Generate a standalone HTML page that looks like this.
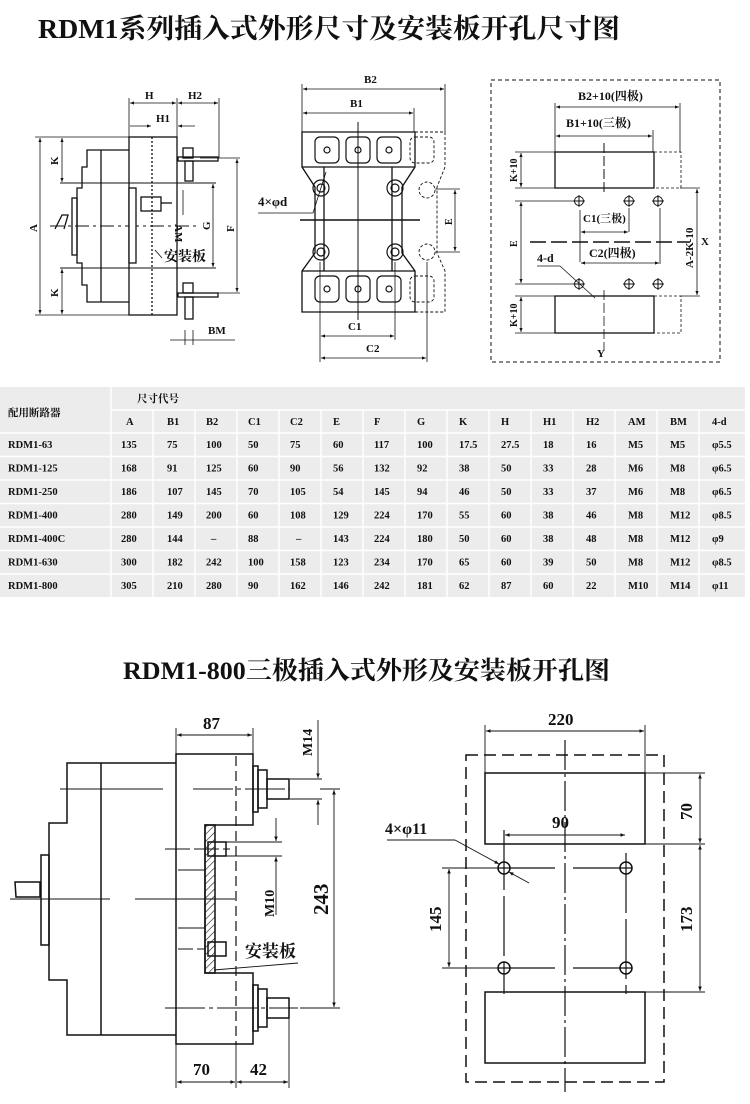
<!DOCTYPE html>
<html><head><meta charset="utf-8"><style>
html,body{margin:0;padding:0;background:#fff;}
svg{display:block;}
text{font-family:"Liberation Serif","Noto Serif CJK SC",serif;font-weight:bold;fill:#111;}
.t{font-size:11px;}
</style></head><body>
<svg width="750" height="1104" viewBox="0 0 750 1104" xmlns="http://www.w3.org/2000/svg">
<defs>
<marker id="a" viewBox="0 0 10 10" refX="10" refY="5" markerWidth="7" markerHeight="5" orient="auto-start-reverse"><path d="M0,1L10,5L0,9z" fill="#111"/></marker>
<pattern id="h" width="5" height="5" patternUnits="userSpaceOnUse" patternTransform="rotate(45)"><line x1="0" y1="0" x2="0" y2="5" stroke="#111" stroke-width="1.2"/></pattern>
</defs>
<text x="38" y="38" font-size="27" textLength="582" lengthAdjust="spacingAndGlyphs">RDM1系列插入式外形尺寸及安装板开孔尺寸图</text>
<text x="123" y="679" font-size="25" textLength="487" lengthAdjust="spacingAndGlyphs">RDM1-800三极插入式外形及安装板开孔图</text>

<!-- ===== TOP LEFT ===== -->
<g stroke="#111" fill="none" stroke-width="1.3">
<rect x="129" y="137" width="48" height="178"/>
<line x1="152" y1="137" x2="152" y2="315" stroke-dasharray="2,2"/>
<path d="M129,150H87V167H82V188H77V263H82V285H87V302H129"/>
<line x1="101" y1="150" x2="101" y2="302"/>
<line x1="60" y1="183" x2="216" y2="183" stroke-width="1"/>
<line x1="60" y1="268" x2="216" y2="268" stroke-width="1"/>
<rect x="72" y="198" width="5" height="57"/>
<path d="M55,229L62,215H68L64,229"/>
<line x1="50" y1="226" x2="200" y2="226" stroke-dasharray="14,4,3,4" stroke-width="1"/>
<rect x="129" y="188" width="7" height="75" fill="#fff"/>
<rect x="183" y="148" width="10" height="10"/><rect x="178" y="157" width="40" height="4"/><rect x="185" y="161" width="8" height="20"/>
<rect x="183" y="283" width="10" height="10"/><rect x="178" y="293" width="40" height="4"/><rect x="185" y="297" width="8" height="22"/>
<rect x="141" y="197" width="20" height="14"/><line x1="161" y1="203" x2="172" y2="203"/>
<g stroke-width="0.8">
<line x1="129" y1="98" x2="129" y2="137"/><line x1="177" y1="98" x2="177" y2="137"/><line x1="219" y1="98" x2="219" y2="158"/>
<line x1="130" y1="103" x2="176" y2="103" marker-start="url(#a)" marker-end="url(#a)"/>
<line x1="178" y1="103" x2="218" y2="103" marker-start="url(#a)" marker-end="url(#a)"/>
<line x1="130" y1="126" x2="151" y2="126" marker-end="url(#a)"/><line x1="178" y1="126" x2="195" y2="126" marker-start="url(#a)"/>
<line x1="35" y1="137" x2="129" y2="137"/><line x1="35" y1="315" x2="129" y2="315"/>
<line x1="40" y1="138" x2="40" y2="314" marker-start="url(#a)" marker-end="url(#a)"/>
<line x1="62" y1="138" x2="62" y2="182" marker-start="url(#a)" marker-end="url(#a)"/>
<line x1="62" y1="269" x2="62" y2="314" marker-start="url(#a)" marker-end="url(#a)"/>
<line x1="200" y1="158" x2="240" y2="158"/><line x1="200" y1="293" x2="240" y2="293"/>
<line x1="237" y1="159" x2="237" y2="292" marker-start="url(#a)" marker-end="url(#a)"/>
<line x1="213" y1="184" x2="213" y2="267" marker-start="url(#a)" marker-end="url(#a)"/>
<line x1="183" y1="190" x2="183" y2="215"/>
<line x1="185" y1="330" x2="185" y2="345"/><line x1="193" y1="330" x2="193" y2="345"/>
<line x1="170" y1="340" x2="235" y2="340"/>
<line x1="155" y1="250" x2="162" y2="258"/>
</g>
</g>
<text x="145" y="99" class="t">H</text><text x="188" y="99" class="t">H2</text><text x="156" y="122" class="t">H1</text>
<text x="208" y="334" class="t">BM</text>
<text x="164" y="261" font-size="14" font-weight="normal">安装板</text>
<text transform="translate(37,232) rotate(-90)" class="t">A</text>
<text transform="translate(58,165) rotate(-90)" class="t">K</text>
<text transform="translate(58,297) rotate(-90)" class="t">K</text>
<text transform="translate(234,232) rotate(-90)" class="t">F</text>
<text transform="translate(210,230) rotate(-90)" class="t">G</text>
<text transform="translate(175,224) rotate(90)" class="t">AM</text>

<!-- ===== TOP MIDDLE ===== -->
<g stroke="#111" fill="none" stroke-width="1.3">
<path d="M302,132H415V167L402,187V253L415,271V312H302V271L315,253V187L302,167Z"/>
<line x1="302" y1="167" x2="415" y2="167"/><line x1="302" y1="271" x2="415" y2="271"/>
<line x1="324" y1="167" x2="324" y2="271"/><line x1="392" y1="167" x2="392" y2="271"/>
<line x1="358" y1="122" x2="358" y2="320" stroke-width="1"/>
<line x1="300" y1="220" x2="420" y2="220" stroke-width="1.6"/>
<g stroke-width="1.2">
<rect x="315" y="137" width="24" height="26" rx="5"/><rect x="346" y="137" width="24" height="26" rx="5"/><rect x="377" y="137" width="24" height="26" rx="5"/>
<rect x="315" y="276" width="24" height="26" rx="5"/><rect x="346" y="276" width="24" height="26" rx="5"/><rect x="377" y="276" width="24" height="26" rx="5"/>
<circle cx="327" cy="150" r="3"/><circle cx="358" cy="150" r="3"/><circle cx="389" cy="150" r="3"/>
<circle cx="327" cy="289" r="3"/><circle cx="358" cy="289" r="3"/><circle cx="389" cy="289" r="3"/>
<circle cx="321" cy="188" r="8"/><circle cx="321" cy="188" r="4"/><circle cx="395" cy="188" r="8"/><circle cx="395" cy="188" r="4"/>
<circle cx="321" cy="252" r="8"/><circle cx="321" cy="252" r="4"/><circle cx="395" cy="252" r="8"/><circle cx="395" cy="252" r="4"/>
</g>
<g stroke-dasharray="3,2" stroke-width="0.9">
<path d="M415,132H445V167L437,187V253L445,271V312H415"/>
<rect x="410" y="137" width="24" height="26" rx="5"/><rect x="410" y="276" width="24" height="26" rx="5"/>
<circle cx="427" cy="190" r="8"/><circle cx="427" cy="252" r="8"/>
</g>
<g stroke-width="0.8">
<line x1="302" y1="84" x2="302" y2="132"/><line x1="445" y1="84" x2="445" y2="132"/><line x1="414" y1="108" x2="414" y2="132"/>
<line x1="303" y1="89" x2="444" y2="89" marker-start="url(#a)" marker-end="url(#a)"/>
<line x1="303" y1="113" x2="413" y2="113" marker-start="url(#a)" marker-end="url(#a)"/>
<line x1="320" y1="262" x2="320" y2="362"/><line x1="395" y1="262" x2="395" y2="340"/><line x1="427" y1="262" x2="427" y2="362"/>
<line x1="321" y1="336" x2="394" y2="336" marker-start="url(#a)" marker-end="url(#a)"/>
<line x1="321" y1="358" x2="426" y2="358" marker-start="url(#a)" marker-end="url(#a)"/>
<line x1="435" y1="189" x2="460" y2="189"/><line x1="435" y1="252" x2="460" y2="252"/>
<line x1="455" y1="190" x2="455" y2="251" marker-start="url(#a)" marker-end="url(#a)"/>
<line x1="258" y1="213" x2="313" y2="213"/><line x1="313" y1="213" x2="326" y2="172"/>
</g>
</g>
<text x="364" y="83" class="t">B2</text><text x="350" y="107" class="t">B1</text>
<text x="348" y="330" class="t">C1</text><text x="366" y="352" class="t">C2</text>
<text x="258" y="206" font-size="13">4×φd</text>
<text transform="translate(452,225) rotate(-90)" font-size="10" font-weight="normal">E</text>

<!-- ===== TOP RIGHT ===== -->
<g stroke="#111" fill="none" stroke-width="1.3">
<rect x="491" y="80" width="229" height="282" stroke-dasharray="4,3" stroke-width="1"/>
<rect x="555" y="152" width="99" height="36"/><rect x="555" y="296" width="99" height="37"/>
<g stroke-dasharray="3,2" stroke-width="0.8"><path d="M654,152H681V188H654"/><path d="M654,296H681V333H654"/></g>
<line x1="604" y1="143" x2="604" y2="195" stroke-dasharray="10,3" stroke-width="1"/>
<line x1="604" y1="290" x2="604" y2="350" stroke-dasharray="10,3" stroke-width="0.8"/>
<line x1="530" y1="242" x2="690" y2="242" stroke-dasharray="16,5" stroke-width="1.6"/>
<g stroke-width="1">
<circle cx="579" cy="201" r="4.5"/><circle cx="629" cy="201" r="4.5"/><circle cx="658" cy="201" r="4.5"/>
<circle cx="579" cy="284" r="4.5"/><circle cx="629" cy="284" r="4.5"/><circle cx="658" cy="284" r="4.5"/>
<path d="M573,201h12M579,195v12M623,201h12M629,195v12M652,201h12M658,195v12M573,284h12M579,278v12M623,284h12M629,278v12M652,284h12M658,278v12"/>
</g>
<g stroke-width="0.8">
<line x1="555" y1="103" x2="555" y2="152"/><line x1="680" y1="103" x2="680" y2="152"/><line x1="653" y1="130" x2="653" y2="152"/>
<line x1="556" y1="107" x2="679" y2="107" marker-start="url(#a)" marker-end="url(#a)"/>
<line x1="556" y1="136" x2="652" y2="136" marker-start="url(#a)" marker-end="url(#a)"/>
<line x1="515" y1="152" x2="555" y2="152"/><line x1="515" y1="188" x2="555" y2="188"/>
<line x1="521" y1="153" x2="521" y2="187" marker-start="url(#a)" marker-end="url(#a)"/>
<line x1="515" y1="296" x2="555" y2="296"/><line x1="515" y1="333" x2="555" y2="333"/>
<line x1="521" y1="297" x2="521" y2="332" marker-start="url(#a)" marker-end="url(#a)"/>
<line x1="515" y1="201" x2="575" y2="201"/><line x1="515" y1="284" x2="575" y2="284"/>
<line x1="521" y1="202" x2="521" y2="283" marker-start="url(#a)" marker-end="url(#a)"/>
<line x1="680" y1="188" x2="700" y2="188"/><line x1="680" y1="296" x2="700" y2="296"/>
<line x1="697" y1="189" x2="697" y2="295" marker-start="url(#a)" marker-end="url(#a)"/>
<line x1="580" y1="210" x2="580" y2="262"/><line x1="629" y1="208" x2="629" y2="232"/><line x1="660" y1="208" x2="660" y2="264"/>
<line x1="581" y1="232" x2="628" y2="232" marker-start="url(#a)" marker-end="url(#a)"/>
<line x1="581" y1="263" x2="659" y2="263" marker-start="url(#a)" marker-end="url(#a)"/>
<line x1="537" y1="266" x2="560" y2="266"/><line x1="560" y1="266" x2="595" y2="298"/>
</g>
</g>
<text x="578" y="100" font-size="12">B2+10(四极)</text>
<text x="566" y="127" font-size="12">B1+10(三极)</text>
<text x="583" y="222" font-size="11" font-weight="normal">C1(三极)</text>
<text x="589" y="257" font-size="12">C2(四极)</text>
<text x="537" y="262" font-size="12">4-d</text>
<text x="597" y="357" class="t">Y</text>
<text x="701" y="245" class="t">X</text>
<text transform="translate(517,182) rotate(-90)" font-size="10">K+10</text>
<text transform="translate(517,327) rotate(-90)" font-size="10">K+10</text>
<text transform="translate(517,247) rotate(-90)" font-size="10" font-weight="normal">E</text>
<text transform="translate(693,268) rotate(-90)" font-size="11">A-2K-10</text>

<!-- ===== TABLE ===== -->
<rect x="0" y="387" width="745" height="210" fill="#ececec"/>
<g stroke="#fff" stroke-width="1.5">
<line x1="111" y1="387" x2="111" y2="597"/>
<line x1="111" y1="410" x2="745" y2="410"/>
<line x1="0" y1="433" x2="745" y2="433"/><line x1="0" y1="456.5" x2="745" y2="456.5"/><line x1="0" y1="480" x2="745" y2="480"/><line x1="0" y1="503.5" x2="745" y2="503.5"/><line x1="0" y1="527" x2="745" y2="527"/><line x1="0" y1="550.5" x2="745" y2="550.5"/><line x1="0" y1="574" x2="745" y2="574"/>
<path d="M153,410V597M195,410V597M237,410V597M279,410V597M321,410V597M363,410V597M405,410V597M447,410V597M489,410V597M531,410V597M573,410V597M615,410V597M657,410V597M699,410V597"/>
</g>
<g font-size="10.5">
<text x="8" y="416">配用断路器</text><text x="137" y="402">尺寸代号</text>
<text x="126" y="425">A</text><text x="167" y="425">B1</text><text x="206" y="425">B2</text><text x="248" y="425">C1</text><text x="290" y="425">C2</text><text x="333" y="425">E</text><text x="374" y="425">F</text><text x="417" y="425">G</text><text x="459" y="425">K</text><text x="501" y="425">H</text><text x="543" y="425">H1</text><text x="586" y="425">H2</text><text x="628" y="425">AM</text><text x="670" y="425">BM</text><text x="712" y="425">4-d</text>
</g>
<g font-size="10.5">
<text y="448"><tspan x="8">RDM1-63</tspan><tspan x="121">135</tspan><tspan x="167">75</tspan><tspan x="206">100</tspan><tspan x="248">50</tspan><tspan x="290">75</tspan><tspan x="333">60</tspan><tspan x="374">117</tspan><tspan x="417">100</tspan><tspan x="459">17.5</tspan><tspan x="501">27.5</tspan><tspan x="543">18</tspan><tspan x="586">16</tspan><tspan x="628">M5</tspan><tspan x="670">M5</tspan><tspan x="712">φ5.5</tspan></text>
<text y="471.5"><tspan x="8">RDM1-125</tspan><tspan x="121">168</tspan><tspan x="167">91</tspan><tspan x="206">125</tspan><tspan x="248">60</tspan><tspan x="290">90</tspan><tspan x="333">56</tspan><tspan x="374">132</tspan><tspan x="417">92</tspan><tspan x="459">38</tspan><tspan x="501">50</tspan><tspan x="543">33</tspan><tspan x="586">28</tspan><tspan x="628">M6</tspan><tspan x="670">M8</tspan><tspan x="712">φ6.5</tspan></text>
<text y="495"><tspan x="8">RDM1-250</tspan><tspan x="121">186</tspan><tspan x="167">107</tspan><tspan x="206">145</tspan><tspan x="248">70</tspan><tspan x="290">105</tspan><tspan x="333">54</tspan><tspan x="374">145</tspan><tspan x="417">94</tspan><tspan x="459">46</tspan><tspan x="501">50</tspan><tspan x="543">33</tspan><tspan x="586">37</tspan><tspan x="628">M6</tspan><tspan x="670">M8</tspan><tspan x="712">φ6.5</tspan></text>
<text y="518.5"><tspan x="8">RDM1-400</tspan><tspan x="121">280</tspan><tspan x="167">149</tspan><tspan x="206">200</tspan><tspan x="248">60</tspan><tspan x="290">108</tspan><tspan x="333">129</tspan><tspan x="374">224</tspan><tspan x="417">170</tspan><tspan x="459">55</tspan><tspan x="501">60</tspan><tspan x="543">38</tspan><tspan x="586">46</tspan><tspan x="628">M8</tspan><tspan x="670">M12</tspan><tspan x="712">φ8.5</tspan></text>
<text y="542"><tspan x="8">RDM1-400C</tspan><tspan x="121">280</tspan><tspan x="167">144</tspan><tspan x="211">–</tspan><tspan x="248">88</tspan><tspan x="296">–</tspan><tspan x="333">143</tspan><tspan x="374">224</tspan><tspan x="417">180</tspan><tspan x="459">50</tspan><tspan x="501">60</tspan><tspan x="543">38</tspan><tspan x="586">48</tspan><tspan x="628">M8</tspan><tspan x="670">M12</tspan><tspan x="712">φ9</tspan></text>
<text y="565.5"><tspan x="8">RDM1-630</tspan><tspan x="121">300</tspan><tspan x="167">182</tspan><tspan x="206">242</tspan><tspan x="248">100</tspan><tspan x="290">158</tspan><tspan x="333">123</tspan><tspan x="374">234</tspan><tspan x="417">170</tspan><tspan x="459">65</tspan><tspan x="501">60</tspan><tspan x="543">39</tspan><tspan x="586">50</tspan><tspan x="628">M8</tspan><tspan x="670">M12</tspan><tspan x="712">φ8.5</tspan></text>
<text y="589"><tspan x="8">RDM1-800</tspan><tspan x="121">305</tspan><tspan x="167">210</tspan><tspan x="206">280</tspan><tspan x="248">90</tspan><tspan x="290">162</tspan><tspan x="333">146</tspan><tspan x="374">242</tspan><tspan x="417">181</tspan><tspan x="459">62</tspan><tspan x="501">87</tspan><tspan x="543">60</tspan><tspan x="586">22</tspan><tspan x="628">M10</tspan><tspan x="670">M14</tspan><tspan x="712">φ11</tspan></text>
</g>

<!-- ===== BOTTOM LEFT ===== -->
<g stroke="#111" fill="none" stroke-width="1.5">
<path d="M176,754H253V825H205V973H253V1044H176Z"/>
<rect x="205" y="825" width="10" height="148" fill="url(#h)"/>
<path d="M176,763H67V823H49V980H67V1035H176"/>
<line x1="101" y1="763" x2="101" y2="1035"/>
<rect x="41" y="855" width="8" height="90"/>
<path d="M15,882H40V897H16Z"/>
<line x1="236" y1="756" x2="236" y2="1044" stroke-dasharray="10,5" stroke-width="1.2"/>
<g stroke-width="1">
<line x1="60" y1="789" x2="163" y2="789"/><line x1="193" y1="789" x2="290" y2="789" stroke-dasharray="40,4,4,4"/>
<line x1="10" y1="899" x2="110" y2="899"/><line x1="135" y1="899" x2="235" y2="899"/>
<line x1="165" y1="1008" x2="298" y2="1008" stroke-dasharray="40,4,4,4"/>
<line x1="165" y1="849" x2="230" y2="849" stroke-dasharray="25,4"/>
<line x1="178" y1="870" x2="205" y2="870"/><line x1="178" y1="928" x2="205" y2="928"/>
<line x1="178" y1="949" x2="205" y2="949" stroke-dasharray="15,4"/>
</g>
<rect x="208" y="842" width="18" height="14"/><rect x="208" y="942" width="18" height="14"/>
<rect x="253" y="766" width="5" height="46"/><rect x="258" y="770" width="9" height="38"/><rect x="267" y="779" width="22" height="20"/>
<rect x="253" y="985" width="5" height="46"/><rect x="258" y="989" width="9" height="38"/><rect x="267" y="998" width="22" height="20"/>
<g stroke-width="0.9">
<line x1="176" y1="728" x2="176" y2="754"/><line x1="253" y1="728" x2="253" y2="754"/>
<line x1="177" y1="735" x2="252" y2="735" marker-start="url(#a)" marker-end="url(#a)"/>
<line x1="176" y1="1044" x2="176" y2="1088"/><line x1="236" y1="1044" x2="236" y2="1088"/><line x1="289" y1="1018" x2="289" y2="1088"/>
<line x1="177" y1="1082" x2="235" y2="1082" marker-start="url(#a)" marker-end="url(#a)"/>
<line x1="237" y1="1082" x2="288" y2="1082" marker-start="url(#a)" marker-end="url(#a)"/>
<line x1="290" y1="779" x2="322" y2="779"/><line x1="290" y1="799" x2="322" y2="799"/>
<line x1="318" y1="720" x2="318" y2="778" marker-end="url(#a)"/><line x1="318" y1="825" x2="318" y2="800" marker-end="url(#a)"/>
<line x1="320" y1="789" x2="340" y2="789"/><line x1="300" y1="1008" x2="340" y2="1008"/>
<line x1="334" y1="790" x2="334" y2="1007" marker-start="url(#a)" marker-end="url(#a)"/>
<line x1="226" y1="842" x2="282" y2="842"/><line x1="226" y1="856" x2="282" y2="856"/>
<line x1="276" y1="818" x2="276" y2="841" marker-end="url(#a)"/><line x1="276" y1="915" x2="276" y2="857" marker-end="url(#a)"/>
<line x1="214" y1="970" x2="298" y2="963"/>
</g>
</g>
<text x="203" y="729" font-size="17">87</text>
<text x="193" y="1075" font-size="17">70</text><text x="250" y="1075" font-size="17">42</text>
<text transform="translate(312,756) rotate(-90)" font-size="14">M14</text>
<text transform="translate(274,917) rotate(-90)" font-size="14">M10</text>
<text transform="translate(328,915) rotate(-90)" font-size="21" font-weight="normal" font-family="Liberation Sans">243</text>
<text x="245" y="957" font-size="17">安装板</text>

<!-- ===== BOTTOM RIGHT ===== -->
<g stroke="#111" fill="none" stroke-width="1.5">
<rect x="466" y="755" width="198" height="327" stroke-dasharray="12,6"/>
<rect x="485" y="773" width="160" height="71"/><rect x="485" y="992" width="160" height="71"/>
<line x1="565" y1="740" x2="565" y2="1092" stroke-dasharray="30,4,3,4" stroke-width="1.2"/>
<circle cx="504" cy="868" r="6"/><circle cx="626" cy="868" r="6"/><circle cx="504" cy="968" r="6"/><circle cx="626" cy="968" r="6"/>
<g stroke-width="1.2">
<line x1="504" y1="830" x2="504" y2="994" stroke-dasharray="60,6"/><line x1="626" y1="853" x2="626" y2="994" stroke-dasharray="60,6"/>
<line x1="498" y1="868" x2="555" y2="868"/><line x1="573" y1="868" x2="632" y2="868"/>
<line x1="498" y1="968" x2="555" y2="968"/><line x1="573" y1="968" x2="632" y2="968"/>
</g>
<g stroke-width="0.9">
<line x1="485" y1="725" x2="485" y2="773"/><line x1="645" y1="725" x2="645" y2="773"/>
<line x1="486" y1="731" x2="644" y2="731" marker-start="url(#a)" marker-end="url(#a)"/>
<line x1="505" y1="835" x2="625" y2="835" marker-start="url(#a)" marker-end="url(#a)"/>
<line x1="645" y1="773" x2="705" y2="773"/><line x1="645" y1="844" x2="705" y2="844"/><line x1="645" y1="992" x2="705" y2="992"/>
<line x1="700" y1="774" x2="700" y2="843" marker-start="url(#a)" marker-end="url(#a)"/>
<line x1="700" y1="845" x2="700" y2="991" marker-start="url(#a)" marker-end="url(#a)"/>
<line x1="442" y1="868" x2="500" y2="868"/><line x1="442" y1="968" x2="500" y2="968"/>
<line x1="449" y1="869" x2="449" y2="967" marker-start="url(#a)" marker-end="url(#a)"/>
<line x1="387" y1="840" x2="455" y2="840"/><line x1="455" y1="840" x2="499" y2="864" marker-end="url(#a)"/>
<line x1="529" y1="883" x2="509" y2="872" marker-end="url(#a)"/>
</g>
</g>
<text x="548" y="725" font-size="17" font-weight="normal">220</text>
<text x="552" y="828" font-size="17">90</text>
<text x="385" y="834" font-size="16">4×φ11</text>
<text transform="translate(692,820) rotate(-90)" font-size="17">70</text>
<text transform="translate(692,932) rotate(-90)" font-size="17">173</text>
<text transform="translate(441,932) rotate(-90)" font-size="17">145</text>
</svg>
</body></html>
